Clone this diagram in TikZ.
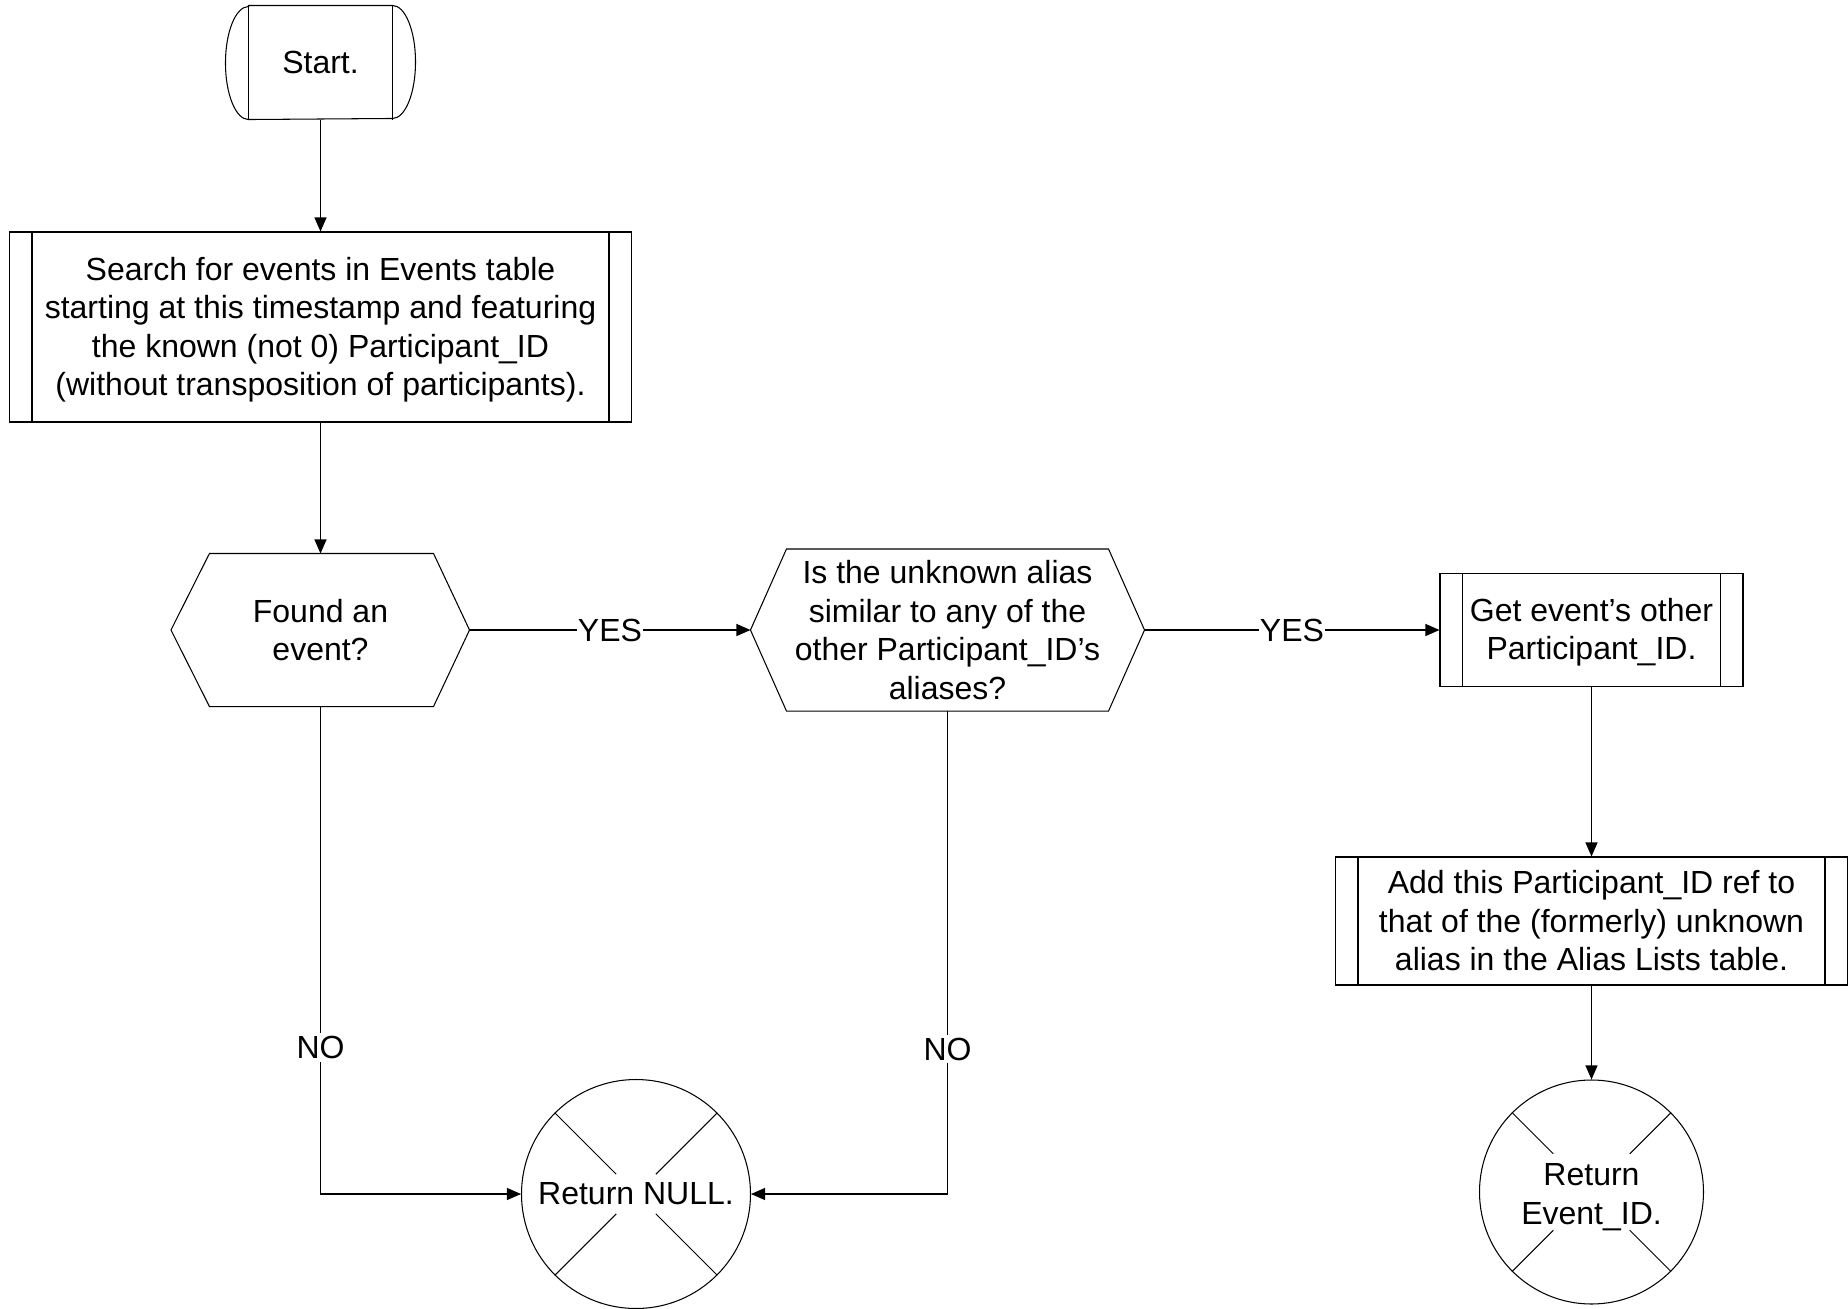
\documentclass[tikz,border=0pt]{standalone}
\usepackage{fontspec}
\setmainfont{Liberation Sans}
\usetikzlibrary{arrows.meta}
\begin{document}
\begin{tikzpicture}[x=1pt,y=-1pt,line width=1.05pt,
  every node/.style={font=\fontsize{32}{38.5}\selectfont,align=center,inner sep=0pt},
  flow/.style={draw,-{Triangle[length=14pt,width=12pt]}},
  lbl/.style={fill=white,inner xsep=1pt,inner ysep=3pt},
  predef/.style={draw,rectangle,
    path picture={\draw ([xshift=22.5pt]path picture bounding box.north west) -- ([xshift=22.5pt]path picture bounding box.south west)
                        ([xshift=-22.5pt]path picture bounding box.north east) -- ([xshift=-22.5pt]path picture bounding box.south east);}},
  stopcircle/.style={draw,circle,minimum size=#1},
]
\useasboundingbox (0,0) rectangle (1848,1309);

% start terminator
\node (start) [minimum width=143pt,minimum height=113pt] at (320.5,62.5) {Start.};
\draw (start.north west) -- (start.north east)
      arc[start angle=90,end angle=-90,x radius=23pt,y radius=56.5pt]
      -- (start.south west)
      arc[start angle=270,end angle=90,x radius=23pt,y radius=56.5pt] -- cycle;
\draw (start.north west) -- (start.south west) (start.north east) -- (start.south east);

% search step
\node (srch) [predef,minimum width=622pt,minimum height=190pt] at (320.5,327) {};
\node (srchtxt) at ([yshift=-2.5pt]srch.center)
  {Search for events in Events table\\starting at this timestamp and featuring\\the known (not 0) Participant\_ID\\(without transposition of participants).};

% first decision
\node (hex1) [minimum width=297pt,minimum height=152pt] at (320.5,630) {Found an\\event?};
\draw ([xshift=-0.5pt]hex1.west) -- ([xshift=38pt]hex1.north west) -- ([xshift=-36pt]hex1.north east)
      -- (hex1.east) -- ([xshift=-36pt]hex1.south east) -- ([xshift=38pt]hex1.south west) -- cycle;

% second decision
\node (hex2) [minimum width=393pt,minimum height=161pt] at (947.5,630)
  {Is the unknown alias\\similar to any of the\\other Participant\_ID’s\\aliases?};
\draw (hex2.west) -- ([xshift=36pt]hex2.north west) -- ([xshift=-36pt]hex2.north east)
      -- (hex2.east) -- ([xshift=-36pt]hex2.south east) -- ([xshift=36pt]hex2.south west) -- cycle;

% right-hand steps
\node (other) [predef,minimum width=303pt,minimum height=113pt] at (1591.5,630) {};
\node (othertxt) at ([yshift=-2pt]other.center) {Get event’s other\\Participant\_ID.};
\node (addref) [predef,minimum width=512pt,minimum height=128pt] at (1591.5,921)
  {Add this Participant\_ID ref to\\that of the (formerly) unknown\\alias in the Alias Lists table.};

% end points
\node (nullend) [stopcircle=229pt] at (636,1194) {Return NULL.};
\foreach \a in {45,135,225,315}
  \draw (nullend.\a) -- ([shift={(\a:28pt)}]nullend.center);
\node (idend) [stopcircle=224pt] at (1591.5,1192) {};
\node (idendtxt) at ([yshift=-5pt]idend.center) {Return\\Event\_ID.};
\foreach \a in {45,135,225,315}
  \draw (idend.\a) -- ([shift={(\a:54pt)}]idend.center);

% connectors
\draw[flow] (start.south) -- (srch.north);
\draw[flow] (srch.south) -- (hex1.north);
\draw[flow] (hex1.east) -- node[lbl]{YES} (hex2.west);
\draw[flow] (hex2.east) -- node[lbl]{YES} (other.west);
\draw[flow] (other.south) -- (addref.north);
\draw[flow] (addref.south) -- (idend.north);
\draw[flow] (hex1.south) |- node[lbl,pos=0.35]{NO} (nullend.west);
\draw[flow] (hex2.south) |- node[lbl,pos=0.35]{NO} (nullend.east);
\end{tikzpicture}
\end{document}
